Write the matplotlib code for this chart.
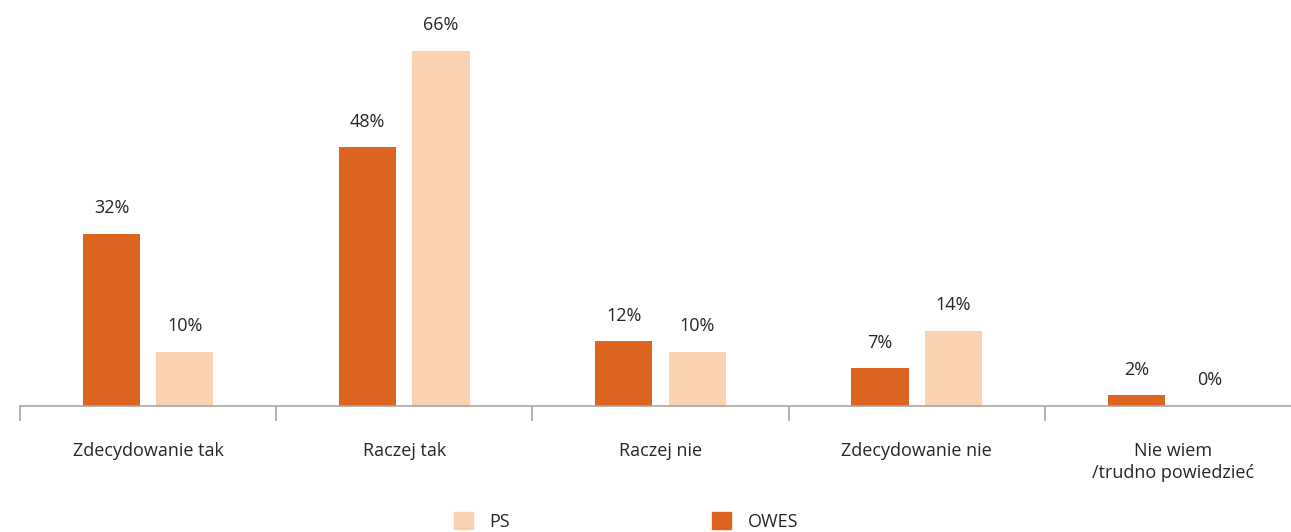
import matplotlib.pyplot as plt
from matplotlib.patches import Patch
import numpy as np

plt.rcParams['font.family'] = ['Open Sans', 'DejaVu Sans']

categories = ['Zdecydowanie tak', 'Raczej tak', 'Raczej nie', 'Zdecydowanie nie', 'Nie wiem\n/trudno powiedzieć']
owes = [32, 48, 12, 7, 2]
ps = [10, 66, 10, 14, 0]

c_owes = '#DD6320'
c_ps = '#FBD2B0'

fig = plt.figure(figsize=(12.91, 5.32), dpi=100)
ax = fig.add_axes([20 / 1291, 126 / 532, 1281 / 1291, 377 / 532])

x = np.arange(len(categories))
w = 0.223
off = 0.143
b1 = ax.bar(x - off, owes, w, color=c_owes)
b2 = ax.bar(x + off, ps, w, color=c_ps)

for bars, vals in ((b1, owes), (b2, ps)):
    for r, v in zip(bars, vals):
        ax.annotate(f'{v}%', (r.get_x() + r.get_width() / 2, v), xytext=(0, 12),
                    textcoords='offset points', ha='center', va='bottom',
                    fontsize=13, color='#262626')

ax.set_xlim(-0.5, 4.5)
ax.set_ylim(0, 70)
for s in ['top', 'right', 'left']:
    ax.spines[s].set_visible(False)
ax.spines['bottom'].set_color('#a6a6a6')
ax.spines['bottom'].set_linewidth(1.2)
ax.set_yticks([])
ax.set_xticks(x)
ax.set_xticklabels(categories, fontsize=13, color='#262626', linespacing=1.25, va='top')
ax.tick_params(axis='x', which='major', length=0, pad=26)
ax.set_xticks(np.arange(-0.5, 5, 1), minor=True)
ax.tick_params(axis='x', which='minor', length=11, width=1.2, color='#a6a6a6', direction='out')

handles = [Patch(color=c_ps, label='PS'), Patch(color=c_owes, label='OWES')]
fig.legend(handles=handles, loc='center', bbox_to_anchor=(0.485, 0.02), ncol=2, frameon=False,
           fontsize=13, handlelength=1.05, handleheight=1.05, handletextpad=0.9,
           columnspacing=11.2, labelcolor='#262626')

fig.savefig('out.png', dpi=100)
